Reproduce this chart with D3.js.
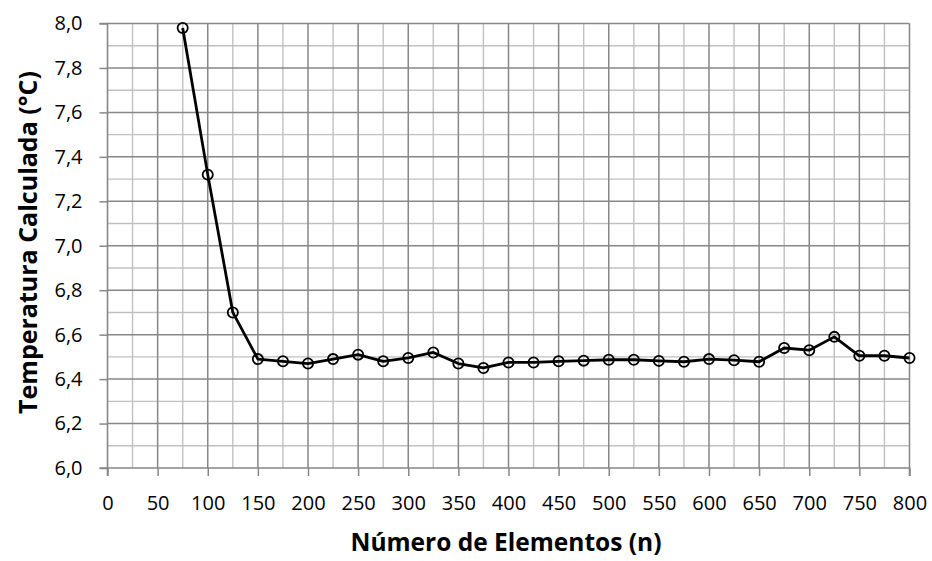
<!DOCTYPE html>
<html>
<head>
<meta charset="utf-8">
<script src="https://cdn.jsdelivr.net/npm/d3@7"></script>
<style>
  html, body { margin: 0; padding: 0; background: #fff; }
  svg { display: block; }
  text { font-family: "Open Sans", "Lato", sans-serif; fill: #000; }
</style>
</head>
<body>
<svg id="chart" width="932" height="561"></svg>
<script>
// Number of elements (n)
const elementos = [75, 100, 125, 150, 175, 200, 225, 250, 275, 300, 325, 350, 375, 400, 425,
                   450, 475, 500, 525, 550, 575, 600, 625, 650, 675, 700, 725, 750, 775, 800];
// Calculated temperature (°C)
const temperatura = [7.98, 7.32, 6.70, 6.49, 6.48, 6.47, 6.49, 6.51, 6.48, 6.495, 6.52, 6.47, 6.45, 6.475, 6.475,
                     6.48, 6.483, 6.487, 6.487, 6.482, 6.478, 6.49, 6.485, 6.478, 6.54, 6.53, 6.59, 6.505, 6.505, 6.495];
const xTicks = d3.range(0, 801, 50);
const yTicks = d3.range(6.0, 8.001, 0.2);

const svg = d3.select("#chart");
const plotLeft = 107.5, plotRight = 909.5, plotTop = 23.5, plotBottom = 468;

const x = d3.scaleLinear().domain([0, 800]).range([plotLeft, plotRight]);
const y = d3.scaleLinear().domain([6.0, 8.0]).range([plotBottom, plotTop]);

// minor grid
const g = svg.append("g");
g.selectAll(".vminor").data(d3.range(25, 800, 50)).join("line")
  .attr("x1", d => x(d)).attr("x2", d => x(d)).attr("y1", plotTop).attr("y2", plotBottom)
  .attr("stroke", "#c0c0c0").attr("stroke-width", 1.4);
g.selectAll(".hminor").data(d3.range(6.1, 8.0, 0.2)).join("line")
  .attr("x1", plotLeft).attr("x2", plotRight).attr("y1", d => y(d)).attr("y2", d => y(d))
  .attr("stroke", "#c0c0c0").attr("stroke-width", 1.4);
// major grid
g.selectAll(".vmajor").data(xTicks.slice(1)).join("line")
  .attr("x1", d => x(d)).attr("x2", d => x(d)).attr("y1", plotTop).attr("y2", plotBottom)
  .attr("stroke", "#878787").attr("stroke-width", 1.5);
g.selectAll(".hmajor").data(yTicks.slice(1)).join("line")
  .attr("x1", plotLeft).attr("x2", plotRight).attr("y1", d => y(d)).attr("y2", d => y(d))
  .attr("stroke", "#878787").attr("stroke-width", 1.5);

// axes
const fmt = d3.format(".1f");
const xAxis = d3.axisBottom(x).tickValues(xTicks).tickSize(8).tickPadding(20).tickFormat(d3.format("d"));
const yAxis = d3.axisLeft(y).tickValues(yTicks).tickSize(8).tickPadding(17)
  .tickFormat(d => fmt(d).replace(".", ","));

const gx = svg.append("g").attr("transform", `translate(0,${plotBottom})`).call(xAxis);
const gy = svg.append("g").attr("transform", `translate(${plotLeft},0)`).call(yAxis);
[gx, gy].forEach(a => {
  a.select(".domain").attr("stroke", "#878787").attr("stroke-width", 1.6);
  a.selectAll(".tick line").attr("stroke", "#878787").attr("stroke-width", 1.5);
  a.selectAll(".tick text").attr("font-size", 20).attr("font-family", "'Open Sans', sans-serif").attr("fill", "#000");
});
gy.select(".domain").attr("d", `M-8,${plotBottom}H0V${plotTop}H-8`);
gx.select(".domain").attr("d", `M${plotLeft},8V0H${plotRight}V8`);

// series
const line = d3.line().x((d, i) => x(elementos[i])).y(d => y(d));
svg.append("path").datum(temperatura)
  .attr("d", line).attr("fill", "none").attr("stroke", "#000").attr("stroke-width", 2.8)
  .attr("stroke-linejoin", "round");
svg.selectAll(".pt").data(temperatura).join("circle")
  .attr("cx", (d, i) => x(elementos[i])).attr("cy", d => y(d)).attr("r", 5.1)
  .attr("fill", "none").attr("stroke", "#000").attr("stroke-width", 1.8);

// titles
svg.append("text").attr("x", 506).attr("y", 551)
  .attr("text-anchor", "middle").attr("font-size", 24.5).attr("font-weight", "bold")
  .text("Número de Elementos (n)");
svg.append("text").attr("transform", `translate(36.5,242.5) rotate(-90)`)
  .attr("text-anchor", "middle").attr("font-size", 25).attr("font-weight", "bold")
  .text("Temperatura Calculada (°C)");
</script>
</body>
</html>
